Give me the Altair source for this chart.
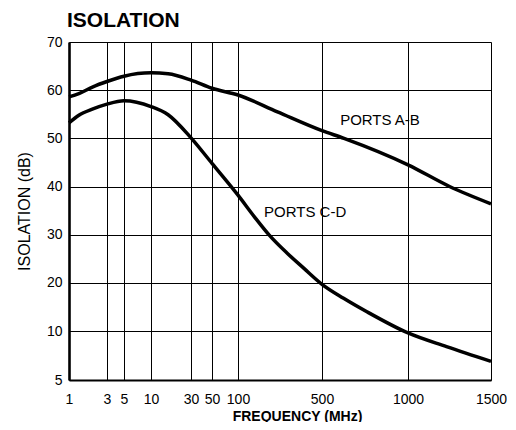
import altair as alt
import pandas as pd

# Tick values
x_ticks = [1, 3, 5, 10, 30, 50, 100, 500, 1000, 1500]
y_ticks = [5, 10, 20, 30, 40, 50, 60, 70]

# PORTS A-B curve (frequency MHz, isolation dB)
ab_freq = [1, 1.33, 2, 3, 5, 10, 16, 30, 50, 100, 213, 500, 597, 1000, 1225, 1500]
ab_val = [58.6, 59.3, 60.7, 61.8, 62.9, 63.6, 63.4, 62.1, 60.4, 59.0, 55.5, 51.6, 50.0, 44.5, 40.0, 36.4]

# PORTS C-D curve
cd_freq = [1, 1.33, 2, 3, 5, 10, 16, 30, 50, 100, 137, 182, 258, 354, 500, 595, 718, 1000, 1207, 1500]
cd_val = [53.2, 54.8, 56.1, 57.1, 57.8, 56.6, 54.9, 50.1, 44.8, 38.2, 33.7, 29.9, 26.1, 23.0, 19.7, 16.8, 14.0, 9.8, 8.4, 6.9]

# Curve labels
lab_text = ["PORTS A-B", "PORTS C-D"]
lab_freq = [798, 362]
lab_val = [53.8, 34.7]

FONT = "Liberation Sans"

df = pd.concat([
    pd.DataFrame({"freq": ab_freq, "iso": ab_val, "series": "A-B"}),
    pd.DataFrame({"freq": cd_freq, "iso": cd_val, "series": "C-D"}),
], ignore_index=True)
lab_df = pd.DataFrame({"freq": lab_freq, "iso": lab_val, "label": lab_text})

W, H = 422, 338
xscale = alt.Scale(type="log", domain=x_ticks,
                   range=[0, 38, 55, 82, 122, 143, 169, 253, 339, W], nice=False)
yscale = alt.Scale(type="linear", domain=[5, 10, 70], range=[H, 289, 0],
                   nice=False, zero=False)

xaxis = alt.Axis(values=x_ticks, format="d", title="FREQUENCY (MHz)",
                 labelFlush=False, labelOverlap=False, ticks=False,
                 labelFont=FONT, labelFontSize=14, labelColor="black", labelPadding=12,
                 titleFont=FONT, titleFontSize=14, titleFontWeight="bold", titleColor="black",
                 titlePadding=3, titleX=228,
                 grid=True, gridColor="black", gridWidth=1, gridOpacity=1,
                 domainColor="black", domainWidth=2.2)
yaxis = alt.Axis(values=y_ticks, format="d", title="ISOLATION (dB)",
                 labelFlush=False, labelOverlap=False, ticks=False,
                 labelFont=FONT, labelFontSize=14, labelColor="black", labelPadding=7,
                 titleFont=FONT, titleFontSize=16, titleFontWeight="normal", titleColor="black",
                 titlePadding=14,
                 grid=True, gridColor="black", gridWidth=1, gridOpacity=1,
                 domainColor="black", domainWidth=2.6)

lines = alt.Chart(df).mark_line(color="black", strokeWidth=3.5, interpolate="monotone").encode(
    x=alt.X("freq:Q", scale=xscale, axis=xaxis),
    y=alt.Y("iso:Q", scale=yscale, axis=yaxis),
    detail="series:N",
)

labels = alt.Chart(lab_df).mark_text(
    font=FONT, fontSize=15, color="black", align="center", baseline="middle"
).encode(
    x=alt.X("freq:Q", scale=xscale),
    y=alt.Y("iso:Q", scale=yscale),
    text="label:N",
)

chart = (lines + labels).properties(
    width=W, height=H,
    title=alt.TitleParams("ISOLATION", anchor="start", frame="group", font=FONT,
                          fontSize=21, fontWeight="bold", color="black", offset=4, dx=-2),
    padding={"left": 61, "top": 34, "right": 16, "bottom": 42},
    autosize=alt.AutoSizeParams(type="none"),
).configure_view(stroke=None).configure(background="white")

chart.save("out.html", embed_options={"renderer": "svg", "actions": False})
